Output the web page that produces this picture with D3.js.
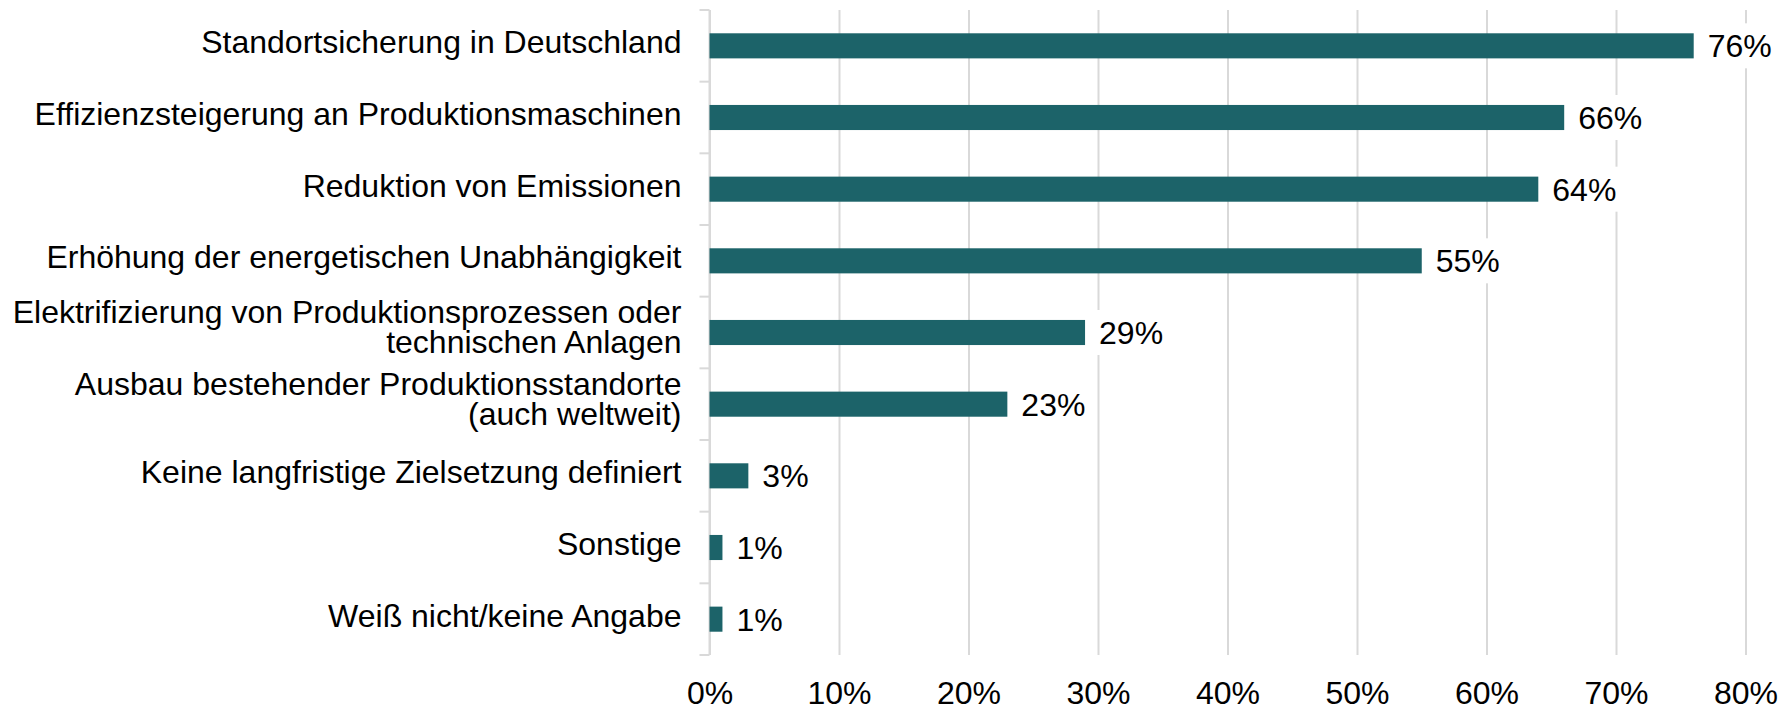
<!DOCTYPE html>
<html>
<head>
<meta charset="utf-8">
<script src="https://cdn.jsdelivr.net/npm/d3@7"></script>
<style>
  html, body { margin: 0; padding: 0; background: #fff; }
  svg { display: block; }
  text { font-family: "Liberation Sans", Arial, sans-serif; fill: #000; }
</style>
</head>
<body>
<div id="chart"></div>
<script>
// categories, top to bottom ("\n" marks a line break in the label)
const categories = [
    "Standortsicherung in Deutschland",
    "Effizienzsteigerung an Produktionsmaschinen",
    "Reduktion von Emissionen",
    "Erhöhung der energetischen Unabhängigkeit",
    "Elektrifizierung von Produktionsprozessen oder\ntechnischen Anlagen",
    "Ausbau bestehender Produktionsstandorte\n(auch weltweit)",
    "Keine langfristige Zielsetzung definiert",
    "Sonstige",
    "Weiß nicht/keine Angabe"
];
const values = [76, 66, 64, 55, 29, 23, 3, 1, 1];
const xTicks = [0, 10, 20, 30, 40, 50, 60, 70, 80];

const width  = 1782;
const height = 707;
const margin = {top: 10, right: 36.5, bottom: 52, left: 709.5};
const innerW = width - margin.left - margin.right;
const innerH = height - margin.top - margin.bottom;

const barColor  = "#1c6369";
const gridColor = "#d9d9d9";
const fontSize  = 32;

let svg = d3.select("#chart")
    .append("svg")
    .attr("width", width)
    .attr("height", height)
    .append("g")
    .attr("transform", "translate(" + margin.left + "," + margin.top + ")");

////////////
/// Axes ///
////////////

let x = d3.scaleLinear()
    .domain([0, 80])
    .range([0, innerW]);

let y = d3.scaleBand()
    .domain(d3.range(categories.length))
    .range([0, innerH])
    .paddingInner(0.65)
    .paddingOuter(0.325);

let yCat = d3.scaleBand()
    .domain(d3.range(categories.length))
    .range([0, innerH]);

// vertical gridlines
let xAxis = svg.append("g")
    .attr("transform", "translate(0," + innerH + ")")
    .call(d3.axisBottom(x).tickValues(xTicks).tickSize(-innerH).tickFormat(d => d + "%"));

xAxis.select(".domain").remove();
xAxis.selectAll("line")
    .attr("stroke", gridColor)
    .attr("stroke-width", 2);
xAxis.selectAll("text")
    .attr("y", 49)
    .attr("dy", 0)
    .style("font-size", fontSize + "px")
    .style("font-family", "'Liberation Sans', Arial, sans-serif")
    .attr("fill", "#000");

// category axis line and boundary ticks
svg.append("line")
    .attr("x1", 0).attr("x2", 0)
    .attr("y1", 0).attr("y2", innerH)
    .attr("stroke", gridColor)
    .attr("stroke-width", 2);

svg.selectAll(".catTick")
    .data(d3.range(categories.length + 1))
    .enter()
    .append("line")
    .attr("class", "catTick")
    .attr("x1", -10).attr("x2", 0)
    .attr("y1", i => i * yCat.step())
    .attr("y2", i => i * yCat.step())
    .attr("stroke", gridColor)
    .attr("stroke-width", 2);

//////////////
/// Labels ///
//////////////

const lineGap = 30;

svg.selectAll(".catLabel")
    .data(categories)
    .enter()
    .append("text")
    .attr("class", "catLabel")
    .attr("text-anchor", "end")
    .style("font-size", fontSize + "px")
    .each(function(d, i) {
        let lines = d.split("\n");
        let cy = yCat(i) + yCat.bandwidth() / 2;
        let first = cy + 7.5 - (lines.length - 1) * lineGap / 2 - (lines.length - 1) * 2;
        lines.forEach((l, k) => {
            d3.select(this).append("tspan")
                .attr("x", -28)
                .attr("y", first + k * lineGap)
                .text(l);
        });
    });

//////////////
/// Bars   ///
//////////////

svg.selectAll(".bar")
    .data(values)
    .enter()
    .append("rect")
    .attr("class", "bar")
    .attr("x", 0)
    .attr("y", (d, i) => y(i))
    .attr("width", d => x(d))
    .attr("height", y.bandwidth())
    .attr("fill", barColor);

// value labels on a white box (breaks the gridlines behind them)
let valueLabels = svg.selectAll(".valLabel")
    .data(values)
    .enter()
    .append("g")
    .attr("class", "valLabel")
    .attr("transform", (d, i) => "translate(" + (x(d) + 14) + "," + (y(i) + y.bandwidth() / 2) + ")");

valueLabels.append("rect")
    .attr("fill", "#fff");

valueLabels.append("text")
    .attr("x", 0)
    .attr("y", 11.5)
    .style("font-size", fontSize + "px")
    .text(d => d + "%");

valueLabels.each(function() {
    let g = d3.select(this);
    let bb = g.select("text").node().getBBox();
    g.select("rect")
        .attr("x", bb.x - 4)
        .attr("y", -22.5)
        .attr("width", bb.width + 8)
        .attr("height", 45);
});
</script>
</body>
</html>
